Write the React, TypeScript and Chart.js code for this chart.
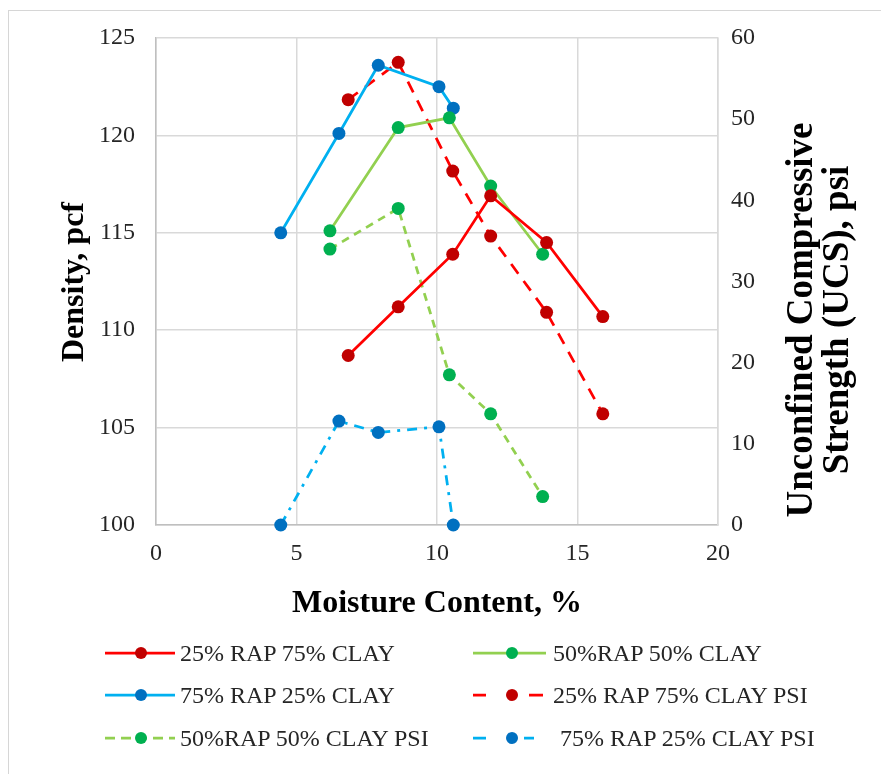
import React, { useEffect, useRef } from 'react';
import { Chart, registerables } from 'chart.js';

Chart.register(...registerables);

// ---------- data ----------
const X_25 = [6.84, 8.62, 10.56, 11.91, 13.9, 15.9];
const DENSITY_25 = [108.7, 111.2, 113.9, 116.9, 114.5, 110.7];
const UCS_25 = [52.4, 57.0, 43.6, 35.6, 26.2, 13.7];

const X_50 = [6.19, 8.62, 10.44, 11.91, 13.76];
const DENSITY_50 = [115.1, 120.4, 120.9, 117.4, 113.9];
const UCS_50 = [34.0, 39.0, 18.5, 13.7, 3.5];

const X_75 = [4.44, 6.51, 7.91, 10.07, 10.58];
const DENSITY_75 = [115.0, 120.1, 123.6, 122.5, 121.4];
const UCS_75 = [0, 12.8, 11.4, 12.1, 0];

const SERIES_NAMES = [
  '25% RAP 75% CLAY',
  '50%RAP 50% CLAY',
  '75% RAP 25% CLAY',
  '25% RAP 75% CLAY PSI',
  '50%RAP 50% CLAY PSI',
  '75% RAP 25% CLAY PSI',
];

const X_TICKS = [0, 5, 10, 15, 20];
const DENSITY_TICKS = [100, 105, 110, 115, 120, 125];
const UCS_TICKS = [0, 10, 20, 30, 40, 50, 60];

const X_TITLE = 'Moisture Content, %';
const Y_TITLE = 'Density, pcf';
const Y2_TITLE = ['Unconfined Compressive', 'Strength (UCS), psi'];

// ---------- styles / layout ----------
const W = 881;
const H = 774;
const AREA = { left: 156, right: 718, top: 38, bottom: 525 };
const SERIF = '"Liberation Serif", "Times New Roman", serif';

const STYLES = [
  { line: '#FF0000', dot: '#C00000', dash: [] as number[], svgDash: '' },
  { line: '#92D050', dot: '#00B050', dash: [] as number[], svgDash: '' },
  { line: '#00B0F0', dot: '#0070C0', dash: [] as number[], svgDash: '' },
  { line: '#FF0000', dot: '#C00000', dash: [12, 9], svgDash: '13 43 14' },
  { line: '#92D050', dot: '#00B050', dash: [8, 6], svgDash: '10 6' },
  { line: '#00B0F0', dot: '#0070C0', dash: [10, 7, 3, 7], svgDash: '13 38 10' },
];

const LEGEND_ROWS_Y = [653, 695, 738];
const LEGEND_COLS = [
  { x1: 105, x2: 175, cx: 141 },
  { x1: 473, x2: 546, cx: 512 },
];
const LEGEND_TEXT_X = [180, 553, 180, 553, 180, 560];

function pts(xs: number[], ys: number[]) {
  return xs.map((x, i) => ({ x, y: ys[i] }));
}

export default function App() {
  const ref = useRef<HTMLCanvasElement>(null);

  useEffect(() => {
    const canvas = ref.current;
    if (!canvas) return;
    const seriesData = [
      { d: pts(X_25, DENSITY_25), axis: 'y' },
      { d: pts(X_50, DENSITY_50), axis: 'y' },
      { d: pts(X_75, DENSITY_75), axis: 'y' },
      { d: pts(X_25, UCS_25), axis: 'y2' },
      { d: pts(X_50, UCS_50), axis: 'y2' },
      { d: pts(X_75, UCS_75), axis: 'y2' },
    ];
    const datasets = seriesData.map((s, i) => ({
      label: SERIES_NAMES[i],
      data: s.d,
      yAxisID: s.axis,
      showLine: true,
      borderColor: STYLES[i].line,
      backgroundColor: STYLES[i].dot,
      borderWidth: 2.75,
      borderDash: STYLES[i].dash,
      pointRadius: 6.5,
      pointBorderWidth: 0,
      pointBackgroundColor: STYLES[i].dot,
      pointBorderColor: STYLES[i].dot,
      tension: 0,
      clip: false as any,
    }));

    const tickFont = { family: SERIF, size: 24 };
    const chart = new Chart(canvas, {
      type: 'scatter',
      data: { datasets: datasets as any },
      options: {
        animation: false,
        responsive: false,
        devicePixelRatio: 1,
        events: [],
        layout: {
          padding: {
            left: AREA.left - 60,
            right: W - AREA.right - 60,
            top: AREA.top,
            bottom: H - AREA.bottom - 40,
          },
        },
        plugins: {
          legend: { display: false },
          tooltip: { enabled: false },
          title: { display: false },
        },
        scales: {
          x: {
            type: 'linear',
            position: 'bottom',
            min: 0,
            max: 20,
            afterBuildTicks: (s: any) => {
              s.ticks = X_TICKS.map((v) => ({ value: v }));
            },
            afterFit: (s: any) => {
              s.height = 40;
              s.paddingLeft = 0;
              s.paddingRight = 0;
            },
            ticks: { font: tickFont, color: '#262626', padding: 14, maxRotation: 0 },
            grid: { color: '#d9d9d9', lineWidth: 1.5, drawTicks: false },
            border: { color: '#bfbfbf', width: 1.5 },
          },
          y: {
            type: 'linear',
            position: 'left',
            min: 100,
            max: 125,
            afterBuildTicks: (s: any) => {
              s.ticks = DENSITY_TICKS.map((v) => ({ value: v }));
            },
            afterFit: (s: any) => {
              s.width = 60;
              s.paddingTop = 0;
              s.paddingBottom = 0;
            },
            ticks: { font: tickFont, color: '#262626', padding: 21 },
            grid: { color: '#d9d9d9', lineWidth: 1.5, drawTicks: false },
            border: { color: '#bfbfbf', width: 1.5 },
          },
          y2: {
            type: 'linear',
            position: 'right',
            min: 0,
            max: 60,
            afterBuildTicks: (s: any) => {
              s.ticks = UCS_TICKS.map((v) => ({ value: v }));
            },
            afterFit: (s: any) => {
              s.width = 60;
              s.paddingTop = 0;
              s.paddingBottom = 0;
            },
            ticks: { font: tickFont, color: '#262626', padding: 13 },
            grid: { drawOnChartArea: false, drawTicks: false },
            border: { color: '#d9d9d9', width: 1.5 },
          },
        },
      } as any,
    });
    return () => chart.destroy();
  }, []);

  const titleStyle: React.CSSProperties = {
    position: 'absolute',
    fontFamily: SERIF,
    fontWeight: 'bold',
    fontSize: 32,
    color: '#000',
    whiteSpace: 'nowrap',
    lineHeight: '36px',
  };

  return (
    <div style={{ position: 'absolute', left: 0, top: 0, width: W, height: H, overflow: 'hidden', background: '#fff' }}>
      <div
        style={{
          position: 'absolute',
          left: 8,
          top: 10,
          right: 0,
          bottom: 0,
          borderLeft: '1.5px solid #d6d6d6',
          borderTop: '1.5px solid #d6d6d6',
        }}
      />
      <canvas ref={ref} width={W} height={H} style={{ position: 'absolute', left: 0, top: 0, width: W, height: H }} />
      <div style={{ ...titleStyle, left: 437, top: 601, transform: 'translate(-50%, -50%)' }}>{X_TITLE}</div>
      <div style={{ ...titleStyle, left: 72, top: 282, transform: 'translate(-50%, -50%) rotate(-90deg)' }}>{Y_TITLE}</div>
      <div
        style={{
          ...titleStyle,
          fontSize: 37,
          left: 818,
          top: 320,
          textAlign: 'center',
          transform: 'translate(-50%, -50%) rotate(-90deg)',
        }}
      >
        {Y2_TITLE.map((t, i) => (
          <div key={i}>{t}</div>
        ))}
      </div>
      <svg width={W} height={H} style={{ position: 'absolute', left: 0, top: 0, pointerEvents: 'none' }}>
        {SERIES_NAMES.map((_, i) => {
          const col = LEGEND_COLS[i % 2];
          const y = LEGEND_ROWS_Y[Math.floor(i / 2)];
          const st = STYLES[i];
          return (
            <g key={i}>
              <line
                x1={col.x1}
                x2={col.x2}
                y1={y}
                y2={y}
                stroke={st.line}
                strokeWidth={2.75}
                strokeDasharray={st.svgDash || undefined}
              />
              <circle cx={col.cx} cy={y} r={6} fill={st.dot} />
            </g>
          );
        })}
      </svg>
      {SERIES_NAMES.map((name, i) => {
        const y = LEGEND_ROWS_Y[Math.floor(i / 2)];
        return (
          <div
            key={i}
            style={{
              position: 'absolute',
              left: LEGEND_TEXT_X[i],
              top: y,
              transform: 'translateY(-50%)',
              fontFamily: SERIF,
              fontSize: 24,
              lineHeight: '30px',
              color: '#262626',
              whiteSpace: 'pre',
            }}
          >
            {name}
          </div>
        );
      })}
    </div>
  );
}
